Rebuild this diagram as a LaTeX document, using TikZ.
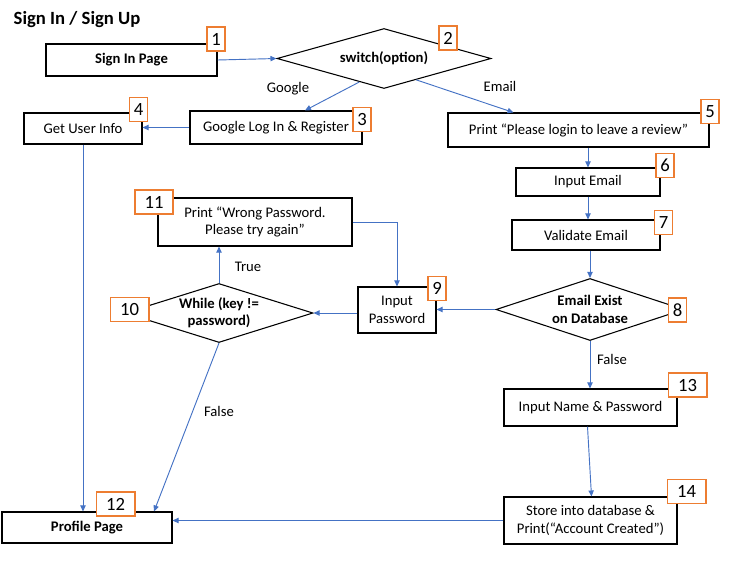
\documentclass[tikz,border=0pt]{standalone}
\usepackage{fontspec}
\setmainfont{Carlito}
\usetikzlibrary{arrows.meta, positioning, calc, shapes.geometric}
\definecolor{flowblue}{HTML}{4472C4}
\definecolor{numorange}{HTML}{ED7D31}

\begin{document}
\begin{tikzpicture}[x=0.75pt, y=-0.75pt, >={Triangle[length=4.5pt,width=4pt]},
  every node/.style={font=\fontsize{11}{13}\selectfont},
  box/.style={rectangle, draw, line width=0.8pt, fill=white, align=center, inner sep=1pt},
  decision/.style={diamond, draw, line width=0.8pt, fill=white, inner sep=0pt},
  numbox/.style={rectangle, draw=numorange, line width=1pt, fill=white, minimum height=18pt, minimum width=#1, inner sep=0pt, font=\fontsize{14}{16}\selectfont},
  numbox/.default=13.5pt,
  conn/.style={->, draw=flowblue, line width=0.7pt}]

\useasboundingbox (0,0) rectangle (743,562);

% Title
\node[anchor=west, font=\fontsize{14}{16}\selectfont\bfseries] (title) at (9,20) {Sign In / Sign Up};

% Start and switch
\node[box, minimum width=128.25pt, minimum height=24pt, font=\fontsize{11}{13}\selectfont\bfseries] (n1) at (131.5,60) {Sign In Page};
\node[decision, minimum width=160.5pt, minimum height=45pt, label={[font=\fontsize{11}{13}\selectfont\bfseries]center:switch(option)}] (n2) at (384,58.5) {};

% Google branch
\node[box, minimum width=129pt, minimum height=24.75pt] (n3) at (276,127.5) {Google Log In \& Register};
\node[box, minimum width=88.5pt, minimum height=23.25pt] (n4) at (83,128.5) {Get User Info};

% Email branch
\node[box, minimum width=195.75pt, minimum height=25.5pt] (n5) at (578.5,130) {Print “Please login to leave a review”};
\node[box, minimum width=108pt, minimum height=21pt] (n6) at (588,182) {Input Email};
\node[box, minimum width=111pt, minimum height=22.5pt] (n7) at (586,235) {Validate Email};
\node[decision, minimum width=141pt, minimum height=46.5pt, label={[align=center, font=\fontsize{11}{13}\selectfont\bfseries]center:Email Exist\\on Database}] (n8) at (590,309.5) {};

% Password loop
\node[box, minimum width=58.5pt, minimum height=34.5pt] (n9) at (397,310) {Input\\Password};
\node[decision, minimum width=141pt, minimum height=44.25pt, label={[align=center, font=\fontsize{11}{13}\selectfont\bfseries]center:While (key !=\\password)}] (n10) at (219,313) {};
\node[box, minimum width=145.5pt, minimum height=36pt] (n11) at (255,222) {Print “Wrong Password.\\Please try again”};

% End boxes
\node[box, minimum width=127.5pt, minimum height=23.25pt, font=\fontsize{11}{13}\selectfont\bfseries] (n12) at (87,527.5) {Profile Page};
\node[box, minimum width=129.75pt, minimum height=27.75pt] (n13) at (590.5,407.5) {Input Name \& Password};
\node[box, minimum width=129.75pt, minimum height=35.25pt] (n14) at (590.5,520.5) {Store into database \&\\Print(“Account Created”)};

% Step numbers
\node[numbox] (s1) at (216,39) {1};
\node[numbox] (s2) at (448,38) {2};
\node[numbox] (s3) at (362,119.5) {3};
\node[numbox] (s4) at (138.5,109.5) {4};
\node[numbox] (s5) at (710,111.5) {5};
\node[numbox] (s6) at (665,165.5) {6};
\node[numbox] (s7) at (663.5,222.5) {7};
\node[numbox] (s8) at (677.5,310) {8};
\node[numbox] (s9) at (437,288.5) {9};
\node[numbox=29pt] (s10) at (129.5,309.5) {10};
\node[numbox=28.5pt] (s11) at (154,202) {11};
\node[numbox=29pt] (s12) at (115.5,504) {12};
\node[numbox=29pt] (s13) at (687.5,385) {13};
\node[numbox=29pt] (s14) at (686.5,491.5) {14};

% Branch labels
\node (lgoogle) at (288,89) {Google};
\node (lemail) at (500,86) {Email};
\node (ltrue) at (248,267) {True};
\node (lfalse1) at (219,411) {False};
\node (lfalse2) at (612,359) {False};

% Connections
\draw[conn] (n1.east) -- (n2.west);
\draw[conn] ($(n2.west)!0.77!(n2.south)$) -- ($(n3.north)+(29,0)$);
\draw[conn] ($(n2.south)!0.3!(n2.east)$) -- ($(n5.north)+(-65,0)$);
\draw[conn] (n3.west) -- (n3.west -| n4.east);
\draw[conn] (n4.south) -- (n4.south |- n12.north);

\draw[conn] (n6.north |- n5.south) -- (n6.north);
\draw[conn] (n6.south) -- (n6.south |- n7.north);
\draw[conn] (n8.north |- n7.south) -- (n8.north);
\draw[conn] (n8.west) -- (n8.west -| n9.east);
\draw[conn] (n10.east -| n9.west) -- (n10.east);
\draw[conn] (n10.north) -- (n10.north |- n11.south);
\draw[conn] (n11.east) -| (n9.north);
\draw[conn] (n10.south) -- ($(n12.north)+(67,0)$);

\draw[conn] (n8.south) -- (n8.south |- n13.north);
\draw[conn] ($(n13.south)+(-3,0)$) -- ($(n14.north)+(1,0)$);
\draw[conn] (n14.west) -- (n14.west -| n12.east);

\end{tikzpicture}
\end{document}
